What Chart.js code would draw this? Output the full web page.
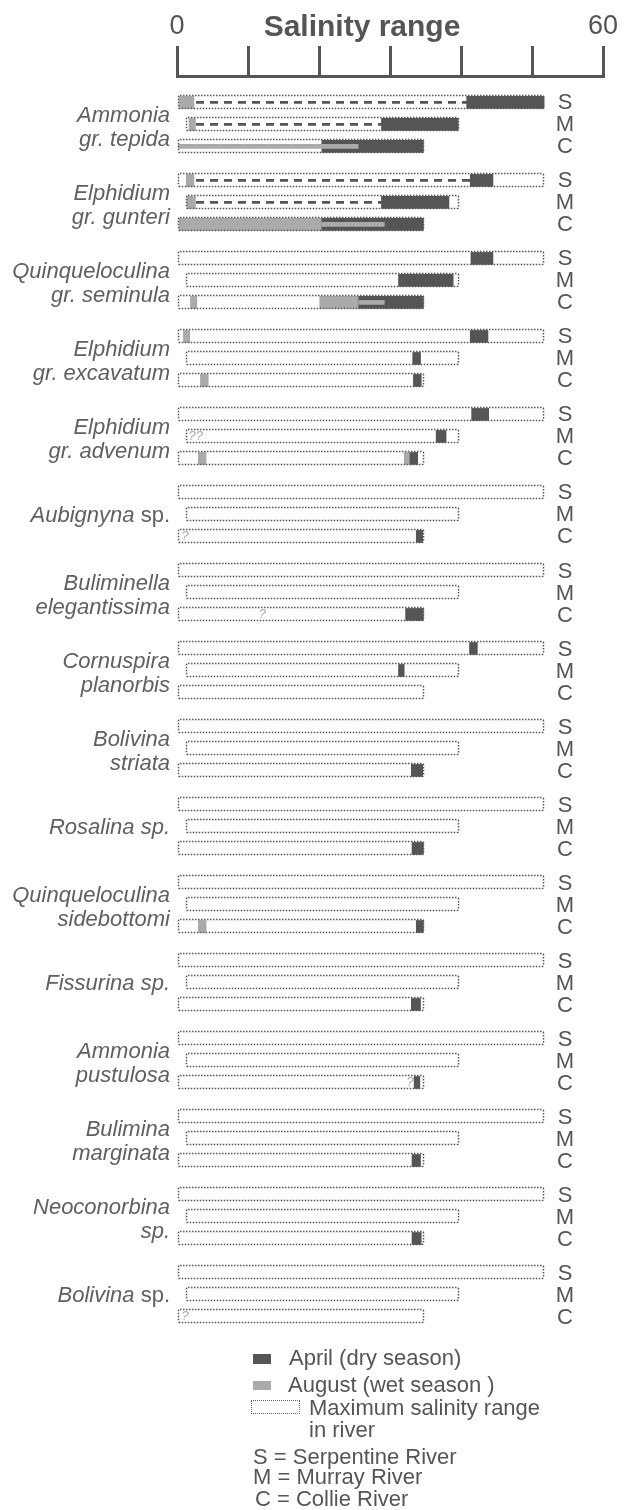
<!DOCTYPE html>
<html>
<head>
<meta charset="utf-8">
<script src="https://cdn.jsdelivr.net/npm/chart.js@4/dist/chart.umd.min.js"></script>
<style>
  body { margin: 0; background: #fff; font-family: 'Liberation Sans', Arial, sans-serif; color: #555; }
  #wrap { position: relative; width: 625px; height: 1510px; }
  .lg { position: absolute; font-size: 22px; line-height: 22px; white-space: nowrap; }
  .sw { position: absolute; }
</style>
</head>
<body>
<div id="wrap">
  <canvas id="salinityChart"></canvas>
  <div class="sw" style="left:253px;top:1354px;width:18px;height:10px;background:#555"></div>
  <div class="lg" style="left:289px;top:1347px">April (dry season)</div>
  <div class="sw" style="left:253px;top:1381px;width:18px;height:9px;background:#aaa"></div>
  <div class="lg" style="left:288px;top:1374px">August (wet season )</div>
  <div class="sw" style="left:251px;top:1400px;width:47px;height:12px;border:1.5px dotted #666"></div>
  <div class="lg" style="left:309px;top:1397px">Maximum salinity range</div>
  <div class="lg" style="left:309px;top:1419px">in river</div>
  <div class="lg" style="left:253px;top:1446px">S = Serpentine River</div>
  <div class="lg" style="left:253px;top:1466px">M = Murray River</div>
  <div class="lg" style="left:255px;top:1488px">C = Collie River</div>
</div>
<script>
const species = ['Ammonia gr. tepida', 'Elphidium gr. gunteri', 'Quinqueloculina gr. seminula',
  'Elphidium gr. excavatum', 'Elphidium gr. advenum', 'Aubignyna sp.', 'Buliminella elegantissima',
  'Cornuspira planorbis', 'Bolivina striata', 'Rosalina sp.', 'Quinqueloculina sidebottomi',
  'Fissurina sp.', 'Ammonia pustulosa', 'Bulimina marginata', 'Neoconorbina sp.', 'Bolivina sp.'];
// label lines, {..} = upright text
const labelLines = [['Ammonia', 'gr. tepida'], ['Elphidium', 'gr. gunteri'], ['Quinqueloculina', 'gr. seminula'],
  ['Elphidium', 'gr. excavatum'], ['Elphidium', 'gr. advenum'], ['Aubignyna {sp.}'], ['Buliminella', 'elegantissima'],
  ['Cornuspira', 'planorbis'], ['Bolivina', 'striata'], ['Rosalina sp.'], ['Quinqueloculina', 'sidebottomi'],
  ['Fissurina sp.'], ['Ammonia', 'pustulosa'], ['Bulimina', 'marginata'], ['Neoconorbina', 'sp.'], ['Bolivina {sp.}']];
const rivers = ['S', 'M', 'C'];

// maximum salinity range in each river (S, M, C)
const maxRange = [[0.2, 51.7], [1.3, 39.7], [0.2, 34.8]];

// [species index, from, to]
const aprilS = [[0, 40.8, 51.7], [1, 41.3, 44.5], [2, 41.4, 44.5], [3, 41.3, 43.8], [4, 41.5, 43.9], [7, 41.2, 42.3]];
const aprilM = [[0, 28.8, 39.6], [1, 28.8, 38.3], [2, 31.2, 38.9], [3, 33.2, 34.3], [4, 36.5, 37.9], [7, 31.2, 32.0]];
const aprilC = [[0, 20.4, 34.7], [1, 20.4, 34.7], [2, 25.6, 34.7], [3, 33.3, 34.4], [4, 32.8, 33.9], [5, 33.7, 34.6],
  [6, 32.2, 34.7], [8, 33.0, 34.6], [9, 33.1, 34.7], [10, 33.7, 34.7], [11, 33.0, 34.3], [12, 33.4, 34.2],
  [13, 33.1, 34.3], [14, 33.1, 34.4]];

const augustS = [[0, 0.3, 2.4], [1, 1.3, 2.4], [3, 0.9, 1.8]];
const augustM = [[0, 1.7, 2.6], [1, 1.4, 2.6]];
const augustC = [[1, 0.3, 20.4], [2, 1.9, 2.8], [2, 20.1, 25.6], [3, 3.3, 4.4], [4, 3.0, 4.1], [4, 32.0, 32.8], [10, 3.0, 4.1]];
const augustThinC = [[0, 0.2, 25.5], [1, 20.4, 29.2], [2, 25.6, 29.2]];

// dashed connection between August and April occurrences
const linkS = [[0, 2.4, 40.8], [1, 2.4, 41.3]];
const linkM = [[0, 2.6, 28.8], [1, 2.6, 28.8]];

// uncertain records: [species index, river index, salinity, mark]
const queryMarks = [[4, 1, 1.9, '??'], [5, 2, 0.9, '?'], [6, 2, 11.8, '?'], [12, 2, 32.6, '?'], [15, 2, 0.9, '?']];

const xTicks = [0, 60];

const FONT = "'Liberation Sans', Arial, sans-serif";
const groupStep = 78 / 22;
const rowOf = (g, r) => g * groupStep + r;
const toBars = (list, r) => list.map(([g, lo, hi]) => ({ x: [lo, hi], y: rowOf(g, r) }));

function dashPattern() {
  const c = document.createElement('canvas');
  c.width = 14; c.height = 2;
  const g = c.getContext('2d');
  g.fillStyle = '#555';
  g.fillRect(0, 0, 8, 2);
  return g.createPattern(c, 'repeat');
}

const common = { grouped: false, borderSkipped: false, borderWidth: 0 };

// dotted outline for the "maximum range" bars (dataset 0)
const dottedBoxes = {
  id: 'dottedBoxes',
  afterDatasetsDraw(chart) {
    const { ctx } = chart;
    ctx.save();
    ctx.strokeStyle = '#555';
    ctx.lineWidth = 1.5;
    ctx.setLineDash([1.5, 1.5]);
    chart.getDatasetMeta(0).data.forEach(el => {
      const { x, y, base, height } = el.getProps(['x', 'y', 'base', 'height'], true);
      const left = Math.round(Math.min(x, base)) + 0.5;
      const right = Math.round(Math.max(x, base)) - 0.5;
      const top = Math.round(y - height / 2) + 0.5;
      const bottom = Math.round(y + height / 2) - 0.5;
      ctx.beginPath();
      ctx.moveTo(left + 1.5, top);
      ctx.lineTo(right - 1.5, top);
      ctx.quadraticCurveTo(right, top, right, top + 1.5);
      ctx.lineTo(right, bottom - 1.5);
      ctx.quadraticCurveTo(right, bottom, right - 1.5, bottom);
      ctx.lineTo(left + 1.5, bottom);
      ctx.quadraticCurveTo(left, bottom, left, bottom - 1.5);
      ctx.lineTo(left, top + 1.5);
      ctx.quadraticCurveTo(left, top, left + 1.5, top);
      ctx.stroke();
    });
    ctx.restore();
  }
};

const labelsPlugin = {
  id: 'labels',
  afterDraw(chart) {
    const { ctx, scales: { x, y } } = chart;
    ctx.save();
    ctx.fillStyle = '#555';
    ctx.textBaseline = 'middle';
    ctx.textAlign = 'center';
    ctx.font = `bold 30px ${FONT}`;
    ctx.fillText('Salinity range', 362, 28);

    // river letters
    ctx.font = `22px ${FONT}`;
    species.forEach((_, g) => rivers.forEach((r, i) => ctx.fillText(r, 565, y.getPixelForValue(rowOf(g, i)) + 1)));

    // species names
    ctx.textBaseline = 'alphabetic';
    ctx.textAlign = 'left';
    ctx.fillStyle = '#606060';
    labelLines.forEach((lines, g) => {
      const mid = y.getPixelForValue(rowOf(g, 1));
      const base = lines.length === 1 ? [mid + 8] : [mid - 2, mid + 22];
      lines.forEach((line, k) => {
        const parts = line.split(/(\{[^}]*\})/).filter(Boolean).map(p =>
          p.startsWith('{') ? { t: p.slice(1, -1), f: `22px ${FONT}` } : { t: p, f: `italic 22px ${FONT}` });
        let w = 0;
        parts.forEach(p => { ctx.font = p.f; p.w = ctx.measureText(p.t).width; w += p.w; });
        let px = 170 - w;
        parts.forEach(p => { ctx.font = p.f; ctx.fillText(p.t, px, base[k]); px += p.w; });
      });
    });

    // question marks
    ctx.fillStyle = '#aaa';
    ctx.font = `italic 13px ${FONT}`;
    ctx.textBaseline = 'middle';
    queryMarks.forEach(([g, r, v, t]) => ctx.fillText(t, x.getPixelForValue(v) - 2, y.getPixelForValue(rowOf(g, r))));
    ctx.restore();
  }
};

new Chart(document.getElementById('salinityChart'), {
  type: 'bar',
  data: {
    datasets: [
      {
        ...common, label: 'Maximum salinity range', order: 0, barThickness: 14,
        data: species.flatMap((_, g) => maxRange.map((rng, r) => ({ x: rng, y: rowOf(g, r) }))),
        backgroundColor: 'rgba(0,0,0,0)'
      },
      {
        ...common, label: 'August thin', order: 1, barThickness: 4,
        data: toBars(augustThinC, 2), backgroundColor: '#aaa'
      },
      {
        ...common, label: 'April (dry season)', order: 2, barThickness: 12,
        data: [...toBars(aprilS, 0), ...toBars(aprilM, 1), ...toBars(aprilC, 2)], backgroundColor: '#555'
      },
      {
        ...common, label: 'link', order: 3, barThickness: 2,
        data: [...toBars(linkS, 0), ...toBars(linkM, 1)], backgroundColor: dashPattern()
      },
      {
        ...common, label: 'August (wet season)', order: 4, barThickness: 12,
        data: [...toBars(augustS, 0), ...toBars(augustM, 1), ...toBars(augustC, 2)], backgroundColor: '#aaa'
      }
    ]
  },
  options: {
    indexAxis: 'y',
    responsive: true,
    maintainAspectRatio: false,
    animation: false,
    events: [],
    layout: { padding: { left: 177, right: 22, top: 0, bottom: 170 } },
    plugins: { legend: { display: false }, tooltip: { enabled: false } },
    scales: {
      x: {
        type: 'linear', position: 'top', min: 0, max: 60,
        ticks: {
          stepSize: 10, padding: 3, color: '#555', maxRotation: 0, autoSkip: false,
          font: { family: FONT, size: 27 },
          callback: v => xTicks.includes(v) ? String(v) : ''
        },
        grid: { drawOnChartArea: false, tickLength: 30, lineWidth: 3, color: '#555' },
        border: { width: 3, color: '#555' },
        afterFit: s => { s.height = 76; }
      },
      y: { type: 'linear', reverse: true, min: -1.2, max: 56.25, display: false, offset: false }
    }
  },
  plugins: [dottedBoxes, labelsPlugin]
});
</script>
</body>
</html>
